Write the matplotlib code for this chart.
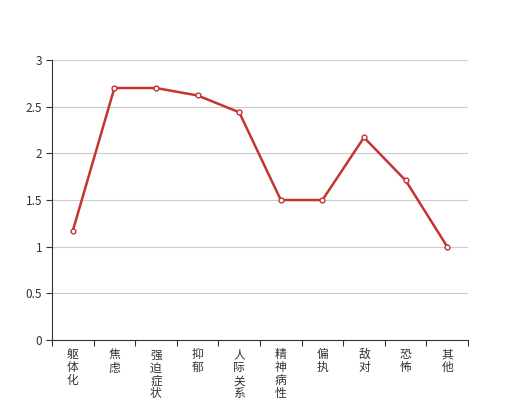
import matplotlib
matplotlib.use("Agg")
import matplotlib.pyplot as plt
import numpy as np

plt.rcParams['font.family'] = ['Noto Sans CJK SC', 'DejaVu Sans']

# 数据
categories = ["躯体化", "焦虑", "强迫症状", "抑郁", "人际关系敏感",
              "精神病性", "偏执", "敌对", "恐怖", "其他"]
values = [1.17, 2.70, 2.70, 2.62, 2.44, 1.50, 1.50, 2.17, 1.71, 1.00]
y_ticks = [0, 0.5, 1, 1.5, 2, 2.5, 3]
y_tick_labels = ["0", "0.5", "1", "1.5", "2", "2.5", "3"]

fig = plt.figure(figsize=(5.2, 4.0), dpi=100)
ax = fig.add_axes([0.1, 0.15, 0.8, 0.70])

x = np.arange(len(categories))
ax.plot(x, values, color="#c23531", linewidth=1.8, marker="o",
        markersize=3.5, markerfacecolor="white", markeredgecolor="#c23531",
        markeredgewidth=1.0, zorder=3)

ax.set_xlim(-0.5, len(categories) - 0.5)
ax.set_ylim(0, 3)

# 网格
ax.set_yticks(y_ticks)
ax.set_yticklabels(y_tick_labels, fontsize=8.5, color="#333333")
ax.yaxis.grid(True, color="#cccccc", linewidth=0.8)
ax.set_axisbelow(True)

# x 轴: 刻度在分界处, 标签竖排在中心
ax.set_xticks(x)
ax.set_xticklabels(["\n".join(c) for c in categories], fontsize=8.5,
                   color="#333333", linespacing=1.0, va="top")
ax.set_xticks(np.arange(len(categories) + 1) - 0.5, minor=True)
ax.tick_params(axis="x", which="major", length=0, pad=6)
ax.tick_params(axis="x", which="minor", length=4, color="#333333", width=0.8)
ax.tick_params(axis="y", length=4, color="#333333", width=0.8, pad=3)

for side in ["top", "right"]:
    ax.spines[side].set_visible(False)
for side in ["left", "bottom"]:
    ax.spines[side].set_color("#333333")
    ax.spines[side].set_linewidth(0.8)

fig.savefig("out.png", dpi=100)
